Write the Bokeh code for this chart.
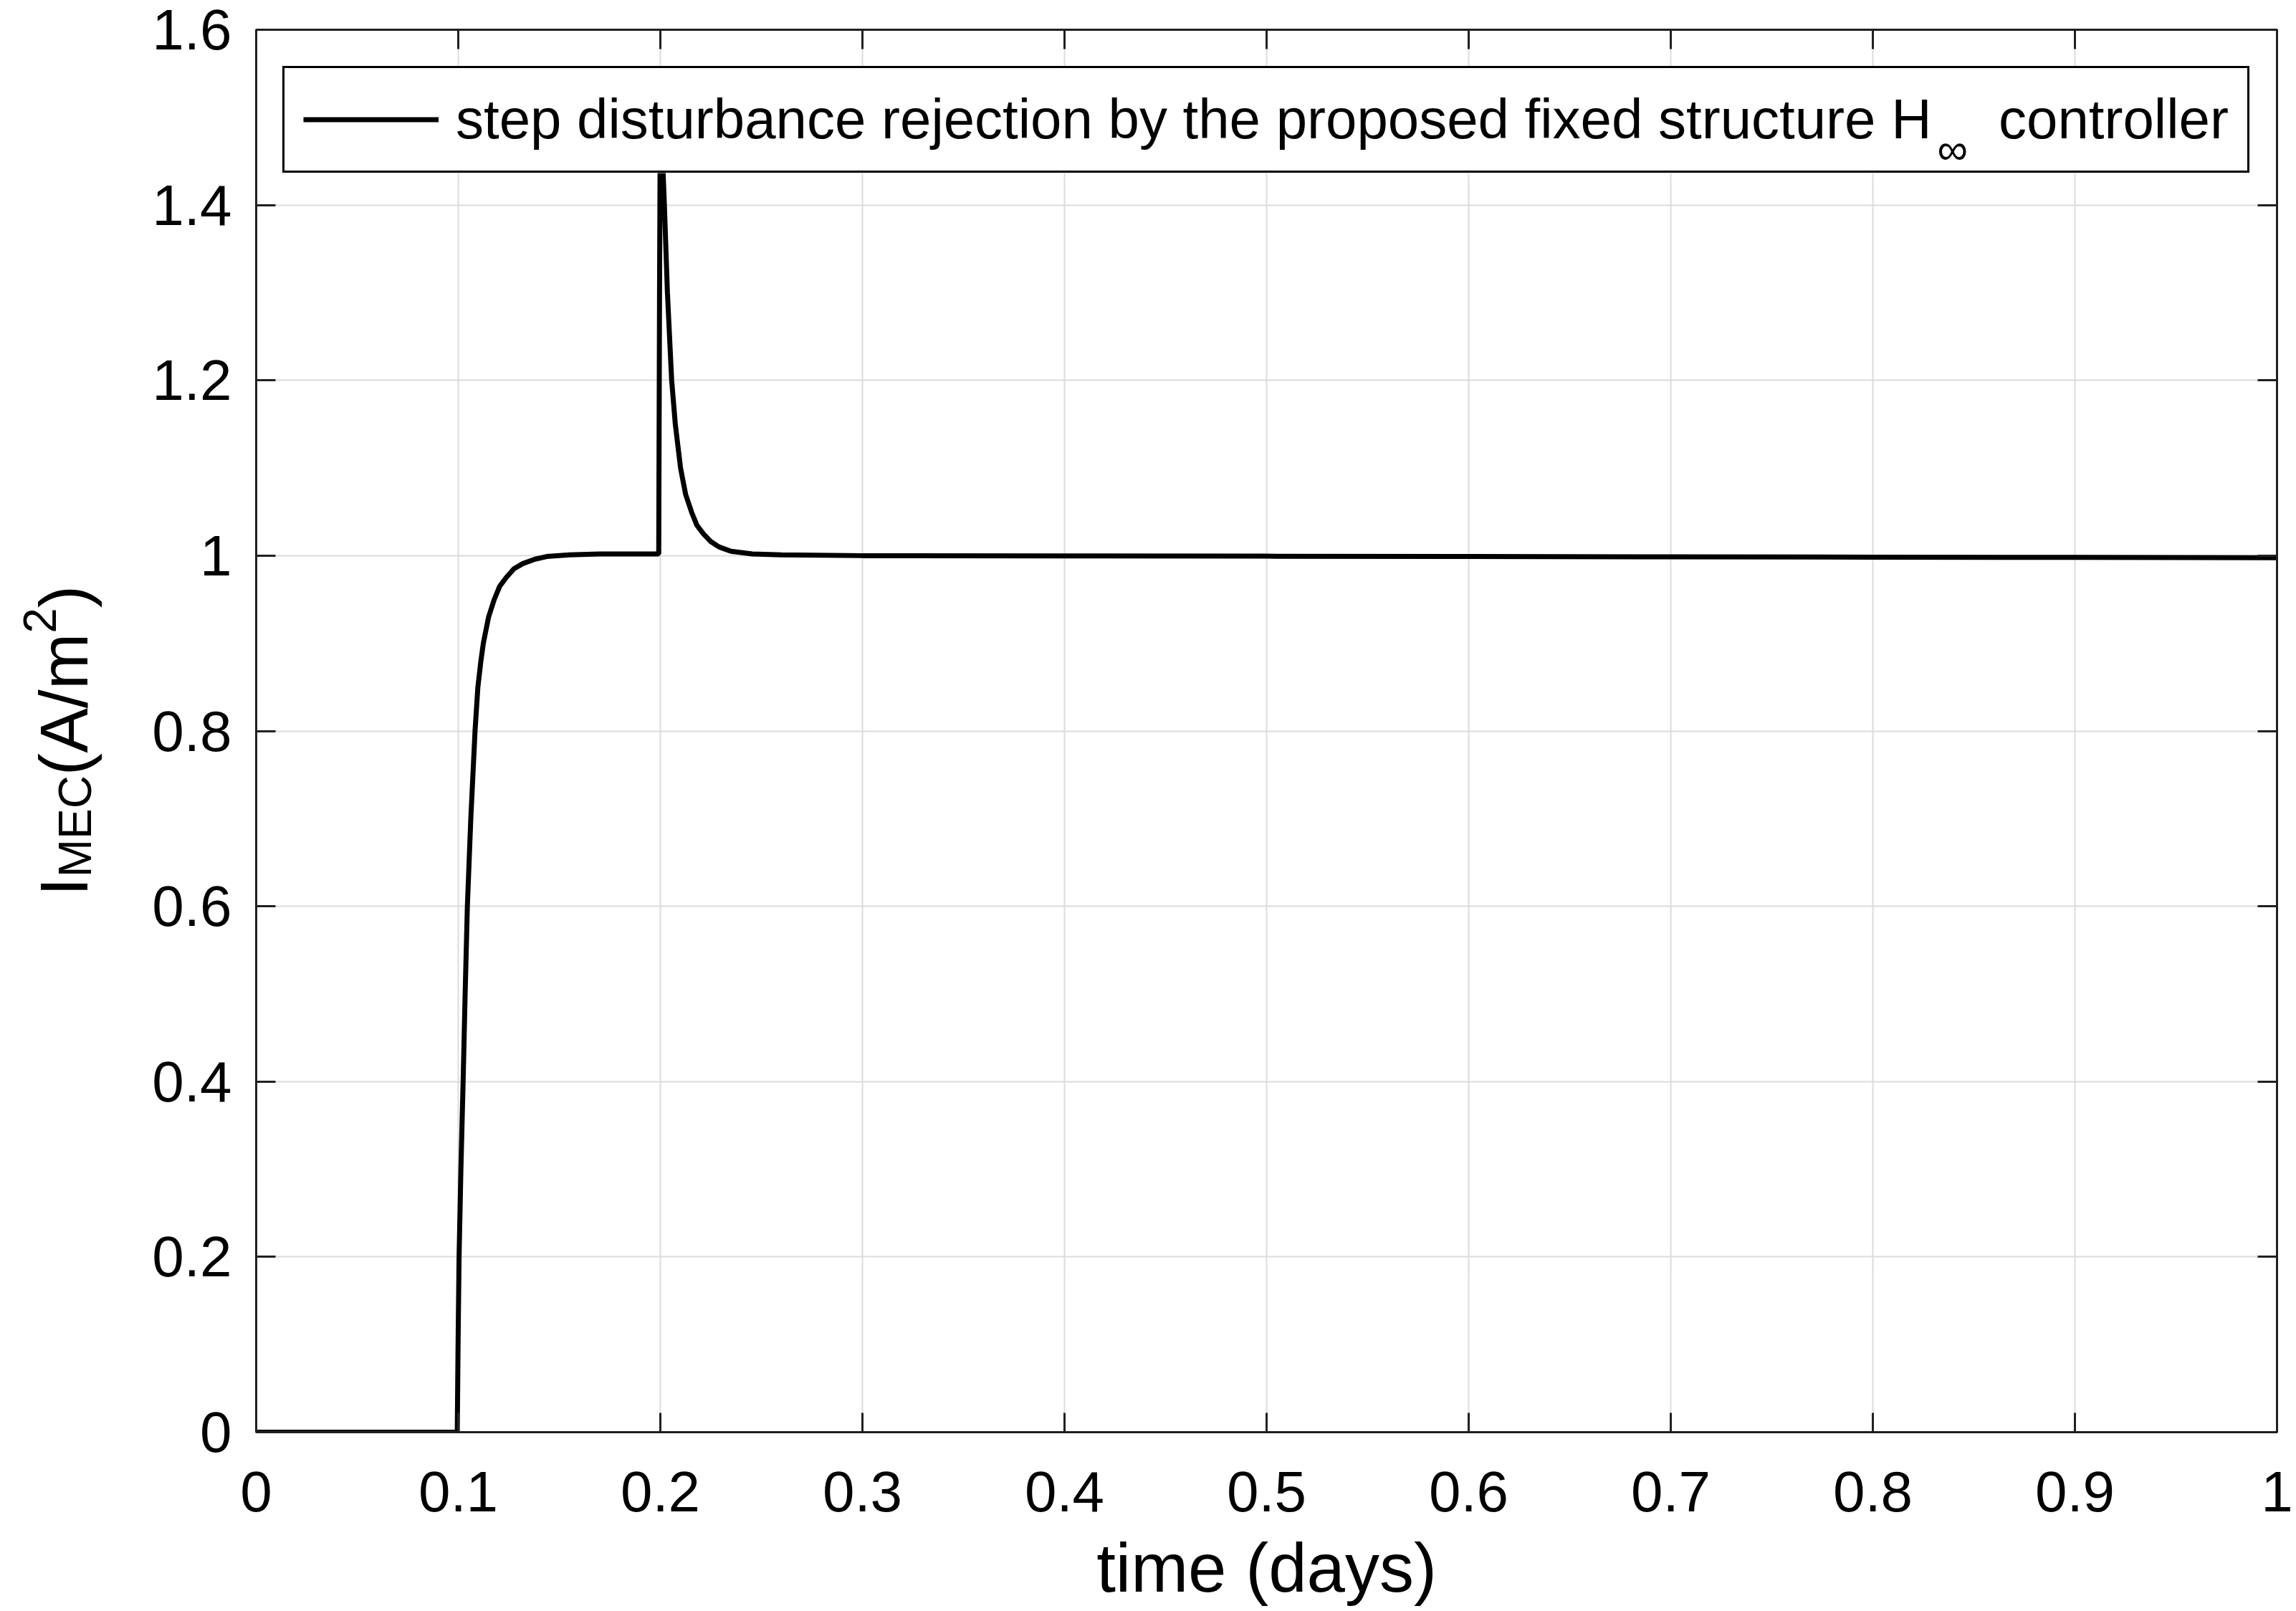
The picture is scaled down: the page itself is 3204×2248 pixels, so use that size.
import numpy as np
from bokeh.plotting import figure
from bokeh.layouts import row
from bokeh.models import LinearAxis, FixedTicker, Range1d, Legend, LegendItem
from bokeh.embed import file_html
from bokeh.resources import INLINE

# ---------------- data ----------------
time_days = [0.0, 0.0995, 0.0999, 0.1004, 0.1013, 0.1024, 0.1034, 0.1045, 0.1062, 0.1083,
             0.1097, 0.1112, 0.1124, 0.1150, 0.1178, 0.1205, 0.1237, 0.1275, 0.1320, 0.1380,
             0.1438, 0.1550, 0.1700, 0.1992, 0.1996, 0.2000, 0.2008, 0.2020, 0.2035, 0.2056,
             0.2074, 0.2100, 0.2125, 0.2154, 0.2180, 0.2213, 0.2250, 0.2290, 0.2350, 0.2455,
             0.2600, 0.3000, 0.4000, 0.5000, 0.6000, 0.7000, 0.8000, 0.9000, 1.0000]
i_mec = [0.0, 0.0, 0.1, 0.2, 0.3, 0.4, 0.5, 0.6, 0.7, 0.8,
         0.85, 0.88, 0.9, 0.93, 0.95, 0.965, 0.975, 0.985, 0.991, 0.996,
         0.999, 1.001, 1.002, 1.002, 1.30, 1.52, 1.47, 1.40, 1.30, 1.20,
         1.15, 1.10, 1.07, 1.05, 1.035, 1.025, 1.016, 1.010, 1.005, 1.002,
         1.001, 1.0, 0.9997, 0.9994, 0.999, 0.9987, 0.9983, 0.998, 0.9977]

x_ticks = [0, 0.1, 0.2, 0.3, 0.4, 0.5, 0.6, 0.7, 0.8, 0.9, 1]
x_tick_labels = ["0", "0.1", "0.2", "0.3", "0.4", "0.5", "0.6", "0.7", "0.8", "0.9", "1"]
y_ticks = [0, 0.2, 0.4, 0.6, 0.8, 1, 1.2, 1.4, 1.6]
y_tick_labels = ["0", "0.2", "0.4", "0.6", "0.8", "1", "1.2", "1.4", "1.6"]

legend_main = "step disturbance rejection by the proposed fixed structure H\u2003\u2009controller"
legend_sub = "\u221e"
x_title = "time (days)"
y_title_parts = ["I", "MEC", "(A/m", "2", ")"]

# ---------------- styling / layout ----------------
FONT = "Liberation Sans"
INK = "#000000"
AX = "#202020"
GRID = "#dcdcdc"
TICK_FS = 80
LABEL_FS = 94
SUB_FS = 64
LEG_FS = 78

PAGE_W, PAGE_H = 3204, 2248
TITLE_W = 150                       # strip holding the y-axis title
FRAME_L, FRAME_T = 357, 41          # frame position on the page
BORDER_B, BORDER_R = 250, 27
FRAME_H = PAGE_H - FRAME_T - BORDER_B
FRAME_W = PAGE_W - FRAME_L - BORDER_R
X_MAX, Y_MAX = 1.0, 1.6

p = figure(width=PAGE_W - TITLE_W, height=PAGE_H,
           min_border_left=FRAME_L - TITLE_W, min_border_right=BORDER_R,
           min_border_top=FRAME_T, min_border_bottom=BORDER_B,
           x_range=Range1d(0, X_MAX), y_range=Range1d(0, Y_MAX),
           output_backend="svg", toolbar_location=None,
           background_fill_color="white", border_fill_color="white")

p.outline_line_color = AX
p.outline_line_width = 3

xt = FixedTicker(ticks=x_ticks)
yt = FixedTicker(ticks=y_ticks)


def style_axis(ax, ticker, labels, show_labels):
    ax.ticker = ticker
    ax.major_tick_in = 27
    ax.major_tick_out = 0
    ax.minor_tick_line_color = None
    ax.major_tick_line_color = AX
    ax.major_tick_line_width = 3
    ax.axis_line_color = AX
    ax.axis_line_width = 3
    ax.major_label_text_font = FONT
    ax.major_label_text_color = INK
    if show_labels:
        ax.major_label_overrides = dict(zip(ticker.ticks, labels))
        ax.major_label_text_font_size = f"{TICK_FS}px"
    else:
        ax.major_label_overrides = {t: "" for t in ticker.ticks}
        ax.major_label_text_font_size = "10px"
        ax.major_label_standoff = 0


style_axis(p.xaxis[0], xt, x_tick_labels, True)
style_axis(p.yaxis[0], yt, y_tick_labels, True)
p.xaxis[0].major_label_standoff = 55
p.yaxis[0].major_label_standoff = 34
p.xaxis[0].axis_label = x_title
p.xaxis[0].axis_label_text_font = FONT
p.xaxis[0].axis_label_text_font_size = f"{LABEL_FS + 2}px"
p.xaxis[0].axis_label_text_font_style = "normal"
p.xaxis[0].axis_label_text_color = INK
p.xaxis[0].axis_label_standoff = 22

top_ax = LinearAxis()
right_ax = LinearAxis()
style_axis(top_ax, xt, x_tick_labels, False)
style_axis(right_ax, yt, y_tick_labels, False)
p.add_layout(top_ax, "above")
p.add_layout(right_ax, "right")

p.xgrid.ticker = xt
p.ygrid.ticker = yt
p.xgrid.grid_line_color = GRID
p.ygrid.grid_line_color = GRID
p.xgrid.grid_line_width = 2
p.ygrid.grid_line_width = 2

r = p.line(time_days, i_mec, line_color="black", line_width=7)

# ---------------- legend ----------------
LEG_X, LEG_Y = 37, 1757              # bottom-left corner, px from the frame's bottom-left
LEG_W, LEG_H = 2739, 147             # rendered size of the legend box (px)

# white background of the legend box (covers the curve's peak), drawn under the
# legend frame so that the subscript can sit on top of it
p.quad(left=[LEG_X / FRAME_W * X_MAX], right=[(LEG_X + LEG_W) / FRAME_W * X_MAX],
       bottom=[LEG_Y / FRAME_H * Y_MAX], top=[(LEG_Y + LEG_H) / FRAME_H * Y_MAX],
       fill_color="white", line_color=None)

# subscript "infinity" of H in the legend text
p.text(x=[0.8318], y=[1.4634], text=[legend_sub],
       text_font={"value": FONT}, text_font_size="60px", text_color=INK,
       text_align="left", text_baseline="alphabetic")

legend = Legend(items=[LegendItem(label=legend_main, renderers=[r])],
                location=(LEG_X, LEG_Y), margin=0, padding=26,
                glyph_width=189, glyph_height=87, label_height=87, label_width=2460,
                label_standoff=24, spacing=0,
                label_text_font=FONT, label_text_font_size=f"{LEG_FS}px", label_text_color=INK,
                border_line_color="black", border_line_width=3, border_line_alpha=1.0,
                background_fill_alpha=0.0)
p.add_layout(legend)

# ---------------- y-axis title strip (subscript / superscript pieces) ----------------
# its frame is aligned with the main frame; units are pixels from the frame bottom
yt_fig = figure(width=TITLE_W, height=PAGE_H, x_range=Range1d(0, TITLE_W),
                y_range=Range1d(0, FRAME_H),
                min_border_left=0, min_border_right=0,
                min_border_top=FRAME_T, min_border_bottom=BORDER_B,
                x_axis_location=None, y_axis_location=None,
                output_backend="svg", toolbar_location=None,
                background_fill_color="white", border_fill_color="white")
yt_fig.outline_line_color = None
yt_fig.grid.visible = False

widths = {"I": 0.278, "MEC": 2.222, "(A/m": 2.111, "2": 0.556, ")": 0.333}
sizes = [LABEL_FS, SUB_FS, LABEL_FS, SUB_FS, LABEL_FS]
shifts = [0, 15, 0, -34, 0]           # baseline shift (sub / superscript)
base_x = 89                            # baseline of the rotated title
pos = float(FRAME_T + FRAME_H - 1250)  # title starts 1250 px below the page top
for part, fs, sh in zip(y_title_parts, sizes, shifts):
    yt_fig.text(x=[base_x + sh], y=[pos], text=[part], angle=np.pi / 2,
                text_font={"value": FONT}, text_font_size=f"{fs}px", text_color=INK,
                text_align="left", text_baseline="alphabetic")
    pos += widths[part] * fs

layout = row(yt_fig, p, spacing=0)
open("out.html", "w").write(file_html(layout, INLINE))
